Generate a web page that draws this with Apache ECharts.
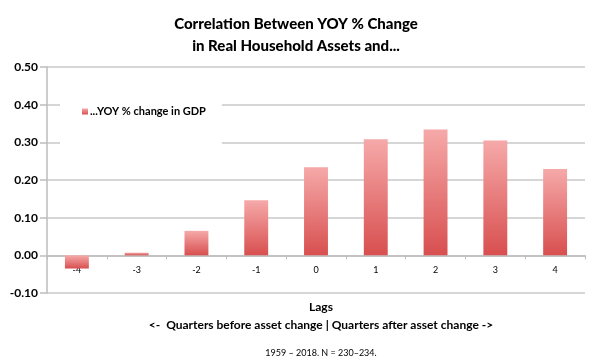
<!DOCTYPE html>
<html><head><meta charset="utf-8">
<script src="https://cdn.jsdelivr.net/npm/echarts@6/dist/echarts.min.js"></script>
<style>html,body{margin:0;padding:0;background:#fff}#c{width:592px;height:356px}</style>
</head><body><div id="c"></div>
<script>
const categories = ['-4','-3','-2','-1','0','1','2','3','4'];
const gdpCorr = [-0.035, 0.007, 0.065, 0.146, 0.234, 0.308, 0.334, 0.305, 0.229];
const seriesName = '...YOY % change in GDP';
const titleLines = 'Correlation Between YOY % Change\nin Real Household Assets and...';
const xName1 = 'Lags';
const xName2 = '<-  Quarters before asset change | Quarters after asset change ->';
const footnote = '1959 – 2018. N = 230–234.';
const yMin = -0.1, yMax = 0.5;

const FONT = 'Lato, "Open Sans", sans-serif';
const gridTop = 67, gridBottom = 63, H = 356;
const plotH = H - gridTop - gridBottom;
const zeroOffset = -plotH * (0 - yMin) / (yMax - yMin);

const chart = echarts.init(document.getElementById('c'));
chart.setOption({
  animation: false,
  backgroundColor: '#fff',
  textStyle: {fontFamily: FONT},
  title: [
    {text: titleLines, left: 'center', top: 8, textStyle: {fontSize: 15, fontWeight: 900, color: '#000', lineHeight: 22, fontFamily: FONT}},
    {text: xName1, left: 316, textAlign: 'center', top: 296, textStyle: {fontSize: 12, fontWeight: 'bold', color: '#000', fontFamily: FONT}},
    {text: xName2, left: 316, textAlign: 'center', top: 314, textStyle: {fontSize: 12, fontWeight: 'bold', color: '#000', fontFamily: FONT}},
    {text: footnote, left: 316, textAlign: 'center', top: 344, textStyle: {fontSize: 9, fontWeight: 'normal', color: '#000', fontFamily: FONT}}
  ],
  legend: {
    data: [seriesName], left: 60, top: 98, itemWidth: 6, itemHeight: 6, itemGap: 4,
    backgroundColor: '#fff', padding: [8, 16, 30, 22],
    textStyle: {fontSize: 11, fontWeight: 'bold', color: '#000', fontFamily: FONT, padding: [0, 0, 0, -3]},
    icon: 'rect'
  },
  grid: {left: 47, right: 7, top: gridTop, bottom: gridBottom},
  xAxis: {
    type: 'category', data: categories, position: 'bottom', offset: zeroOffset,
    axisLine: {onZero: false, lineStyle: {color: '#bdbdbd', width: 1.5}},
    axisTick: {show: true, length: 4, lineStyle: {color: '#bdbdbd'}},
    axisLabel: {fontSize: 9, color: '#000', margin: 10, fontFamily: FONT}
  },
  yAxis: {
    type: 'value', min: yMin, max: yMax, interval: 0.1,
    axisLine: {show: true, lineStyle: {color: '#bdbdbd', width: 1.5}},
    axisTick: {show: true, length: 7, lineStyle: {color: '#bdbdbd', width: 1.5}},
    splitLine: {lineStyle: {color: '#c8c8c8', width: 1.5}},
    axisLabel: {fontSize: 12, fontWeight: 'bold', color: '#000', margin: 9, fontFamily: FONT,
      formatter: v => v.toFixed(2)}
  },
  series: [{
    name: seriesName, type: 'bar', data: gdpCorr, barWidth: '40%',
    itemStyle: {color: new echarts.graphic.LinearGradient(0, 0, 0, 1, [
      {offset: 0, color: '#f6a9a9'}, {offset: 1, color: '#d84f4f'}])}
  }]
});
</script></body></html>
